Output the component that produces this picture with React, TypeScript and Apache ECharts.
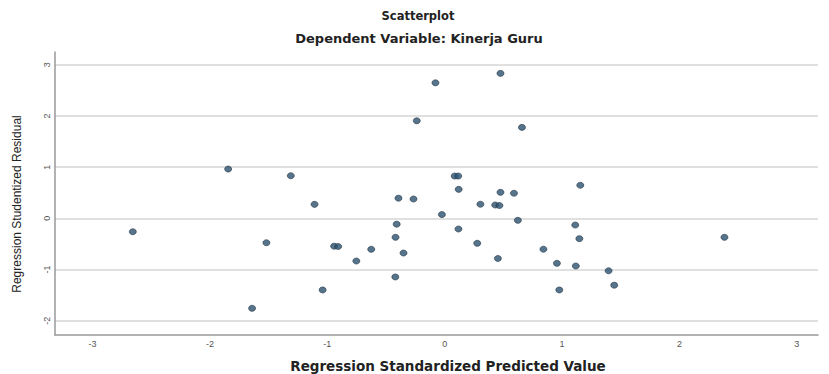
import React, { useEffect, useRef } from "react";
import * as echarts from "echarts";

const chartTitle = "Scatterplot";
const chartSubtitle = "Dependent Variable: Kinerja Guru";
const xAxisTitle = "Regression Standardized Predicted Value";
const yAxisTitle = "Regression Studentized Residual";

const predicted = [
  -2.657, -1.845, -1.311, -1.519, -1.641, -1.109, -0.942, -0.908, -0.753, -0.626,
  -0.421, -0.409, -0.419, -0.351, -0.394, -0.266, -1.04, -0.238, -0.079, -0.024,
  0.085, 0.115, 0.119, 0.117, 0.304, 0.43, 0.466, 0.475, 0.59, 0.623,
  0.277, 0.453, 0.475, 0.658, 0.841, 0.956, 0.976, 1.112, 1.147, 1.117,
  1.155, 1.396, 1.444, 2.383,
];
const residual = [
  -0.262, 0.963, 0.832, -0.477, -1.758, 0.273, -0.545, -0.551, -0.834, -0.605,
  -1.146, -0.115, -0.371, -0.678, 0.393, 0.377, -1.4, 1.906, 2.648, 0.074,
  0.826, 0.826, 0.566, -0.209, 0.275, 0.26, 0.25, 0.508, 0.49, -0.039,
  -0.488, -0.785, 2.832, 1.777, -0.604, -0.879, -1.4, -0.131, -0.398, -0.932,
  0.646, -1.025, -1.307, -0.371,
];

const xMin = -3.32;
const xMax = 3.18;
const yMin = -2.28;
const yMax = 3.25;

export default function App() {
  const ref = useRef<HTMLDivElement>(null);
  useEffect(() => {
    if (!ref.current) return;
    const chart = echarts.init(ref.current, undefined, { renderer: "svg" });
    const points = predicted.map((x, i) => [x, residual[i]]);
    chart.setOption({
      animation: false,
      backgroundColor: "#ffffff",
      grid: { left: 55, right: 11, top: 52, bottom: 39 },
      graphic: [
        {
          type: "text",
          x: 418,
          y: 16,
          style: {
            text: chartTitle,
            fontFamily: "DejaVu Sans",
            fontWeight: "bold",
            fontSize: 11.5,
            fill: "#222",
            align: "center",
            verticalAlign: "middle",
          },
        },
        {
          type: "text",
          x: 419,
          y: 38,
          style: {
            text: chartSubtitle,
            fontFamily: "DejaVu Sans",
            fontWeight: "bold",
            fontSize: 13,
            fill: "#222",
            align: "center",
            verticalAlign: "middle",
          },
        },
        {
          type: "text",
          x: 448,
          y: 366,
          style: {
            text: xAxisTitle,
            fontFamily: "DejaVu Sans",
            fontWeight: "bold",
            fontSize: 13.5,
            fill: "#222",
            align: "center",
            verticalAlign: "middle",
          },
        },
        {
          type: "text",
          x: 17,
          y: 204,
          rotation: Math.PI / 2,
          style: {
            text: yAxisTitle,
            fontFamily: "Liberation Sans",
            fontSize: 12,
            fill: "#222",
            align: "center",
            verticalAlign: "middle",
          },
        },
      ],
      xAxis: {
        type: "value",
        min: xMin,
        max: xMax,
        minInterval: 1,
        maxInterval: 1,
        splitLine: { show: false },
        axisLine: { show: true, onZero: false, lineStyle: { color: "#999", width: 1.5 } },
        axisTick: { show: false },
        axisLabel: {
          showMinLabel: false,
          showMaxLabel: false,
          color: "#555",
          fontSize: 9,
          fontFamily: "Liberation Sans",
          margin: 4,
        },
      },
      yAxis: {
        type: "value",
        min: yMin,
        max: yMax,
        minInterval: 1,
        maxInterval: 1,
        splitLine: {
          show: true,
          showMinLine: false,
          showMaxLine: false,
          lineStyle: { color: "#d6d6d6", width: 1.5 },
        },
        axisLine: { show: true, onZero: false, lineStyle: { color: "#999", width: 1.5 } },
        axisTick: { show: false },
        axisLabel: {
          showMinLabel: false,
          showMaxLabel: false,
          rotate: 90,
          color: "#555",
          fontSize: 9,
          fontFamily: "Liberation Sans",
          margin: 4,
        },
      },
      series: [
        {
          type: "scatter",
          data: points,
          symbol: "circle",
          symbolSize: [7, 6],
          itemStyle: {
            color: "#2c5270",
            borderColor: "#243646",
            borderWidth: 0.8,
          },
        },
      ],
    });
    return () => chart.dispose();
  }, []);
  return (
    <div
      ref={ref}
      style={{ position: "fixed", left: 0, top: 0, width: 829, height: 374 }}
    />
  );
}
